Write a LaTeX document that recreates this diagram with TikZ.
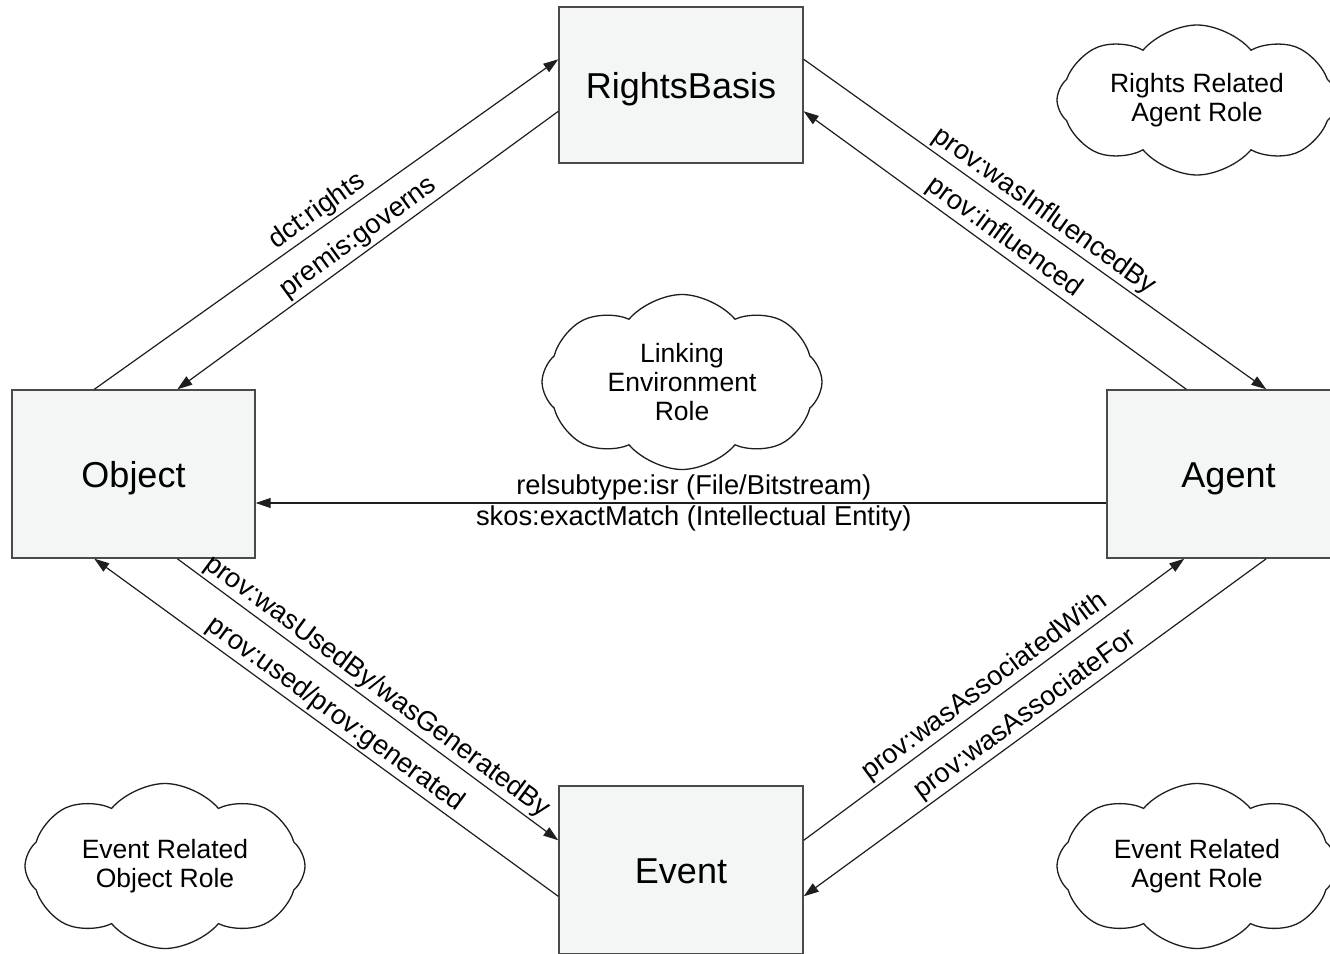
\documentclass[tikz,border=0pt]{standalone}
\usepackage{fontspec}
\setmainfont{Liberation Sans}
\usetikzlibrary{arrows.meta,shapes.symbols}
\definecolor{boxfill}{HTML}{F4F6F6}
\definecolor{boxline}{HTML}{4A4A4A}
\definecolor{ink}{HTML}{1E1E1E}
\begin{document}
\begin{tikzpicture}[x=1pt,y=-1pt,
  entity/.style={draw=boxline, fill=boxfill, line width=1.4pt, minimum width=244pt,
    inner sep=0pt, text height=26pt, text depth=0pt, font=\fontsize{36}{40}\selectfont},
  role/.style={cloud, draw=ink, line width=1.3pt, cloud puffs=8, cloud puff arc=100,
    cloud ignores aspect, minimum width=280pt, minimum height=165pt, align=center,
    inner sep=0pt, font=\fontsize{26.5}{29}\selectfont},
  link/.style={draw=ink, line width=1.2pt, -{Triangle[length=15pt,width=10pt]}},
  lbl/.style={font=\fontsize{27.3}{30}\selectfont, sloped, inner sep=2.5pt, midway}]
\useasboundingbox (0,0) rectangle (1330,953);
\fill[white] (0,0) rectangle (1330,953);
% entities
\node[entity, minimum height=156pt] (rb) at (681,85) {RightsBasis};
\node[entity, minimum width=243pt, minimum height=168pt] (obj) at (133.5,474) {Object};
\node[entity, minimum width=243pt, minimum height=168pt] (ag) at (1228.5,474) {Agent};
\node[entity, minimum height=168pt] (ev) at (681,870) {Event};
% roles
\node[role, minimum height=150pt] (rra) at (1197,100) {Rights Related\\Agent Role};
\node[role, minimum height=175pt] (ler) at (682,382) {Linking\\Environment\\Role};
\node[role] (ero) at (165,866) {Event Related\\Object Role};
\node[role] (era) at (1197,866) {Event Related\\Agent Role};
% connectors
\draw[link] ([xshift=83pt]obj.north west) -- node[lbl, above] {dct:rights} ([yshift=-53pt]rb.north west);
\draw[link] ([yshift=-105pt]rb.north west) -- node[lbl, above] {premis:governs} ([xshift=166pt]obj.north west);
\draw[link] ([yshift=-53pt]rb.north east) -- node[lbl, above] {prov:wasInfluencedBy} ([xshift=160pt]ag.north west);
\draw[link] ([xshift=80pt]ag.north west) -- node[lbl, above] {prov:influenced} ([yshift=-105pt]rb.north east);
\draw[link] ([yshift=-29pt]ag.west) -- node[lbl, above, pos=0.485] {relsubtype:isr (File/Bitstream)}
  node[lbl, below, pos=0.485] {skos:exactMatch (Intellectual Entity)} ([yshift=-29pt]obj.east);
\draw[link] ([xshift=166pt]obj.south west) -- node[lbl, above] {prov:wasUsedBy/wasGeneratedBy} ([yshift=-55pt]ev.north west);
\draw[link] ([yshift=-111pt]ev.north west) -- node[lbl, above] {prov:used/prov:generated} ([xshift=83pt]obj.south west);
\draw[link] ([yshift=-55pt]ev.north east) -- node[lbl, above] {prov:wasAssociatedWith} ([xshift=78pt]ag.south west);
\draw[link] ([xshift=160pt]ag.south west) -- node[lbl, above] {prov:wasAssociateFor} ([yshift=-111pt]ev.north east);
\end{tikzpicture}
\end{document}
